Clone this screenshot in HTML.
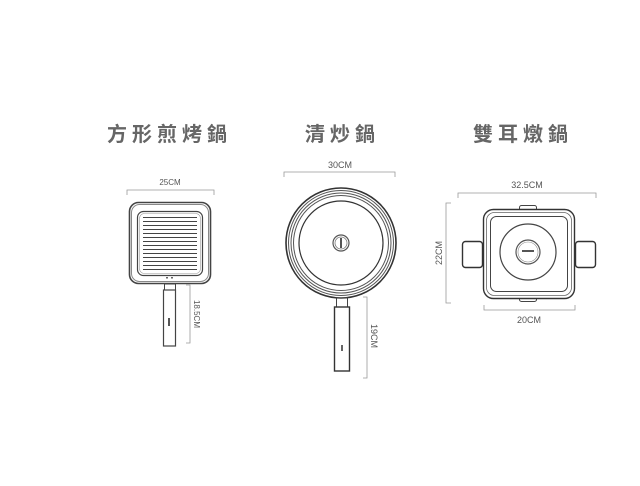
<!DOCTYPE html>
<html><head><meta charset="utf-8"><style>
html,body{margin:0;padding:0;background:#fff;width:640px;height:486px;overflow:hidden}
svg{display:block}
.t{font-family:"Liberation Sans","Noto Sans CJK TC",sans-serif;font-size:20px;font-weight:bold;fill:#666;letter-spacing:5px}
.d{font-family:"Liberation Sans",sans-serif;font-size:8px;fill:#555}
.d2{font-family:"Liberation Sans",sans-serif;font-size:9px;fill:#555}
</style></head><body>
<svg width="640" height="486" viewBox="0 0 640 486" fill="none" stroke="#444" stroke-width="1">
<text class="t" x="107" y="141" stroke="none">方形煎烤鍋</text>
<text class="t" x="305" y="141" stroke="none">清炒鍋</text>
<text class="t" x="473" y="141" stroke="none">雙耳燉鍋</text>

<!-- grill pan -->
<g stroke="#999" stroke-width="0.8"><path d="M127 195V190H214V195"/><path d="M186 285H190V343H186"/></g>
<text class="d" x="170" y="185" text-anchor="middle" stroke="none">25CM</text>
<text class="d" x="194" y="314" transform="rotate(90 194 314)" text-anchor="middle" stroke="none">18.5CM</text>
<rect x="129.5" y="202.5" width="81" height="81" rx="9" stroke="#444" stroke-width="1.6"/>
<rect x="131.5" y="204.5" width="77" height="77" rx="8" stroke="#888"/>
<rect x="137.5" y="211.5" width="65" height="64" rx="6" stroke="#444" stroke-width="1.2"/>
<rect x="139.5" y="213.5" width="61" height="60" rx="5" stroke="#999" stroke-width="0.6"/>
<g stroke="#444" stroke-width="1">
<path d="M143 217.5H197M143 221.5H197M143 225.5H197M143 229.5H197M143 233.5H197M143 237.5H197M143 241.5H197M143 245.5H197M143 249.5H197M143 253.5H197M143 257.5H197M143 261.5H197M143 265.5H197M143 269.5H197"/>
</g>
<rect x="166" y="277" width="2" height="1.5" fill="#666" stroke="none"/><rect x="171" y="277" width="2" height="1.5" fill="#666" stroke="none"/>
<rect x="164.5" y="284" width="11" height="6" stroke="#444"/>
<rect x="163.5" y="290" width="12" height="56" stroke="#444" stroke-width="1.2"/>
<rect x="168" y="318" width="2" height="8" fill="#555" stroke="none"/>

<!-- frying pan -->
<g stroke="#999" stroke-width="0.8"><path d="M284 177V172H395V177"/><path d="M363 297H367V378H363"/></g>
<text class="d2" x="340" y="168" text-anchor="middle" stroke="none">30CM</text>
<text class="d2" x="371" y="336" transform="rotate(90 371 336)" text-anchor="middle" stroke="none">19CM</text>
<circle cx="341" cy="243" r="55" stroke="#333" stroke-width="1.6"/>
<circle cx="341" cy="243" r="52.5" stroke="#555"/>
<circle cx="341" cy="243" r="50" stroke="#555"/>
<circle cx="341" cy="243" r="47.5" stroke="#555"/>
<circle cx="341" cy="243" r="42" stroke="#333" stroke-width="1.2"/>
<circle cx="341" cy="243" r="8" stroke="#555" stroke-width="1.2"/>
<circle cx="341" cy="243" r="6" stroke="#777" stroke-width="0.8"/>
<rect x="340" y="238" width="2" height="10" fill="#555" stroke="none"/>
<rect x="336.5" y="298" width="11" height="9" stroke="#444"/>
<rect x="334.5" y="307" width="15" height="64" stroke="#333" stroke-width="1.4"/>
<rect x="341" y="345" width="2" height="6" fill="#666" stroke="none"/>

<!-- pot -->
<g stroke="#999" stroke-width="0.8"><path d="M458 198V193H596V198"/><path d="M451 203H446V303H451"/><path d="M484 305V310H575V305"/></g>
<text class="d2" x="527" y="188" text-anchor="middle" stroke="none">32.5CM</text>
<text class="d2" x="442" y="253" transform="rotate(-90 442 253)" text-anchor="middle" stroke="none">22CM</text>
<text class="d2" x="529" y="323" text-anchor="middle" stroke="none">20CM</text>
<rect x="519.5" y="205.5" width="17" height="5" rx="2" stroke="#444"/>
<rect x="519.5" y="296.5" width="17" height="5" rx="2" stroke="#444"/>
<rect x="462.5" y="241.5" width="20" height="26" rx="3" stroke="#333" stroke-width="1.4"/>
<rect x="575.5" y="241.5" width="20" height="26" rx="3" stroke="#333" stroke-width="1.4"/>
<rect x="483.5" y="209.5" width="91" height="89" rx="10" fill="#fff" stroke="#333" stroke-width="1.4"/>
<rect x="486.5" y="212.5" width="85" height="83" rx="8" stroke="#666" stroke-width="0.8"/>
<rect x="490.5" y="216.5" width="77" height="75" rx="6" stroke="#444"/>
<circle cx="528" cy="252" r="28" stroke="#444" stroke-width="1.2"/>
<circle cx="528" cy="252" r="12" stroke="#555" stroke-width="1.2"/>
<circle cx="528" cy="252" r="10" stroke="#888" stroke-width="0.6"/>
<rect x="522" y="250" width="12" height="2" fill="#555" stroke="none"/>
</svg>
</body></html>
